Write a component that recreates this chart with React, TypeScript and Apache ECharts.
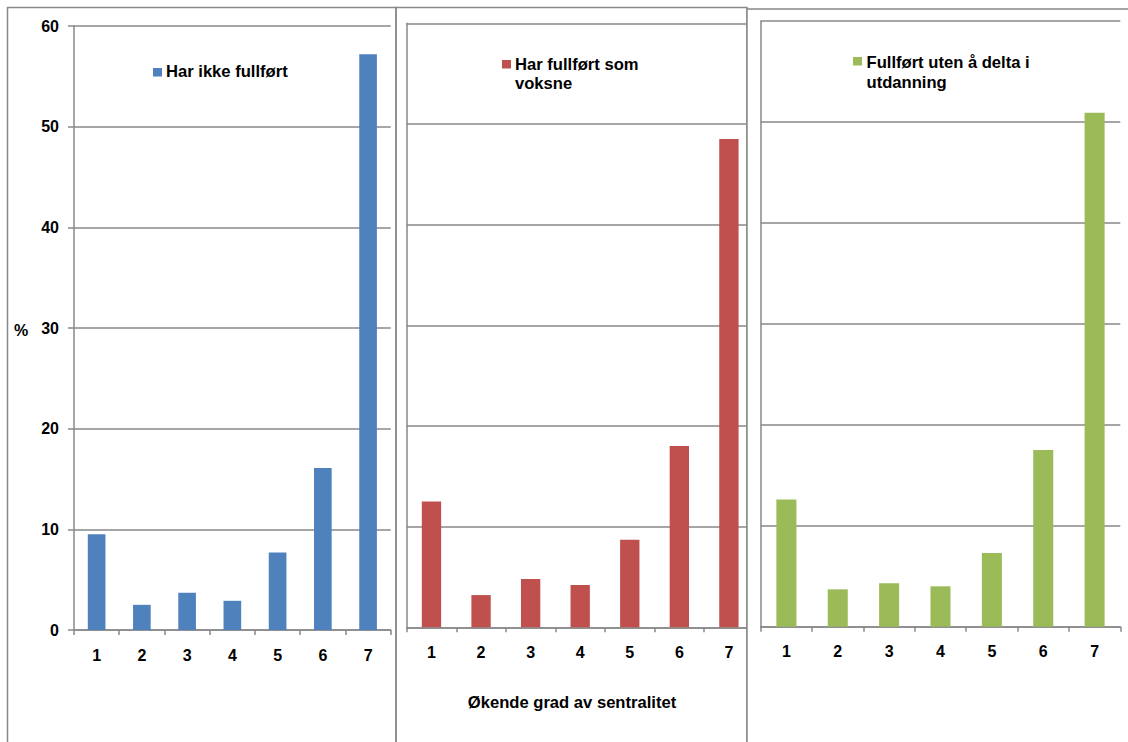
import React, { useEffect, useRef } from "react";
import * as echarts from "echarts";

const categories = ["1", "2", "3", "4", "5", "6", "7"];
const harIkkeFullfort = [9.5, 2.5, 3.7, 2.9, 7.7, 16.1, 57.2];
const harFullfortSomVoksne = [12.5, 3.2, 4.8, 4.2, 8.7, 18.0, 48.5];
const fullfortUtenUtdanning = [12.6, 3.7, 4.3, 4.0, 7.3, 17.5, 50.9];
const seriesNames = ["Har ikke fullført", "Har fullført som\nvoksne", "Fullført uten å delta i\nutdanning"];
const colors = ["#4F81BD", "#C0504D", "#9BBB59"];
const yTicks = { min: 0, max: 60, interval: 10 };
const xTitle = "Økende grad av sentralitet";
const yTitle = "%";

const FONT = "'Liberation Sans', Arial, sans-serif";
const GRAY = "#898989";

export default function App() {
  const ref = useRef<HTMLDivElement>(null);
  useEffect(() => {
    if (!ref.current) return;
    const chart = echarts.init(ref.current, null, { renderer: "svg" });
    const grids = [
      { left: 74, top: 26, width: 316.7, height: 604 },
      { left: 406.7, top: 23.3, width: 347, height: 604 },
      { left: 760.7, top: 21, width: 359.6, height: 605.7 },
    ];
    const zs = [2, 2, 20];
    const xAxes = grids.map((_, i) => ({
      type: "category",
      gridIndex: i,
      data: categories,
      z: zs[i],
      axisLine: { lineStyle: { color: GRAY, width: 1.5 } },
      axisTick: { show: true, length: 5, lineStyle: { color: GRAY, width: 1.5 } },
      axisLabel: { color: "#000", fontWeight: "bold", fontSize: 16, fontFamily: FONT, margin: 17 },
    }));
    const yAxes = grids.map((_, i) => ({
      type: "value",
      gridIndex: i,
      min: yTicks.min,
      max: yTicks.max,
      interval: yTicks.interval,
      z: zs[i],
      axisLine: { show: true, lineStyle: { color: GRAY, width: 1.5 } },
      axisTick: { show: i === 0, length: 6, lineStyle: { color: GRAY, width: 1.5 } },
      axisLabel: { show: i === 0, color: "#000", fontWeight: "bold", fontSize: 16, fontFamily: FONT, margin: 15 },
      splitLine: { show: true, lineStyle: { color: GRAY, width: 1.5 } },
    }));
    const datas = [harIkkeFullfort, harFullfortSomVoksne, fullfortUtenUtdanning];
    const series = datas.map((d, i) => ({
      type: "bar",
      name: seriesNames[i],
      xAxisIndex: i,
      yAxisIndex: i,
      data: d,
      barWidth: "39%",
      z: zs[i] + 1,
      itemStyle: { color: colors[i] },
    }));
    const legendPos = [
      { sx: 153, sy: 68, tx: 166, ty: 61.5, lh: 20 },
      { sx: 502, sy: 60, tx: 515, ty: 54.5, lh: 19.5 },
      { sx: 853, sy: 57, tx: 866.5, ty: 52.5, lh: 20 },
    ];
    const legendEls: any[] = [];
    legendPos.forEach((p, i) => {
      legendEls.push({
        type: "rect",
        shape: { x: p.sx, y: p.sy, width: 9, height: 8.5 },
        style: { fill: colors[i] },
        z: 30,
      });
      legendEls.push({
        type: "text",
        x: p.tx,
        y: p.ty,
        z: 30,
        style: {
          text: seriesNames[i],
          fill: "#000",
          font: `bold 16.6px ${FONT}`,
          lineHeight: p.lh,
          align: "left",
          verticalAlign: "top",
        },
      });
    });
    chart.setOption({
      animation: false,
      backgroundColor: "#fff",
      grid: grids.map((g) => ({ ...g, containLabel: false })),
      xAxis: xAxes,
      yAxis: yAxes,
      series,
      graphic: [
        {
          type: "rect",
          shape: { x: 7.5, y: 7.5, width: 388.5, height: 800 },
          style: { fill: "none", stroke: GRAY, lineWidth: 1.5 },
          z: 1,
        },
        {
          type: "rect",
          shape: { x: 396, y: 7.5, width: 351, height: 800 },
          style: { fill: "none", stroke: GRAY, lineWidth: 1.5 },
          z: 1,
        },
        {
          type: "rect",
          shape: { x: 747, y: 9, width: 420, height: 800 },
          style: { fill: "#fff", stroke: GRAY, lineWidth: 1.5 },
          z: 10,
        },
        ...legendEls,
        {
          type: "text",
          x: 14,
          y: 330,
          z: 30,
          style: { text: yTitle, fill: "#000", font: `bold 16px ${FONT}`, align: "left", verticalAlign: "middle" },
        },
        {
          type: "text",
          x: 572,
          y: 702,
          z: 30,
          style: { text: xTitle, fill: "#000", font: `bold 16.6px ${FONT}`, align: "center", verticalAlign: "middle" },
        },
      ],
    });
    return () => chart.dispose();
  }, []);
  return (
    <div
      ref={ref}
      style={{ position: "fixed", left: 0, top: 0, width: 1128, height: 742, background: "#fff" }}
    />
  );
}
